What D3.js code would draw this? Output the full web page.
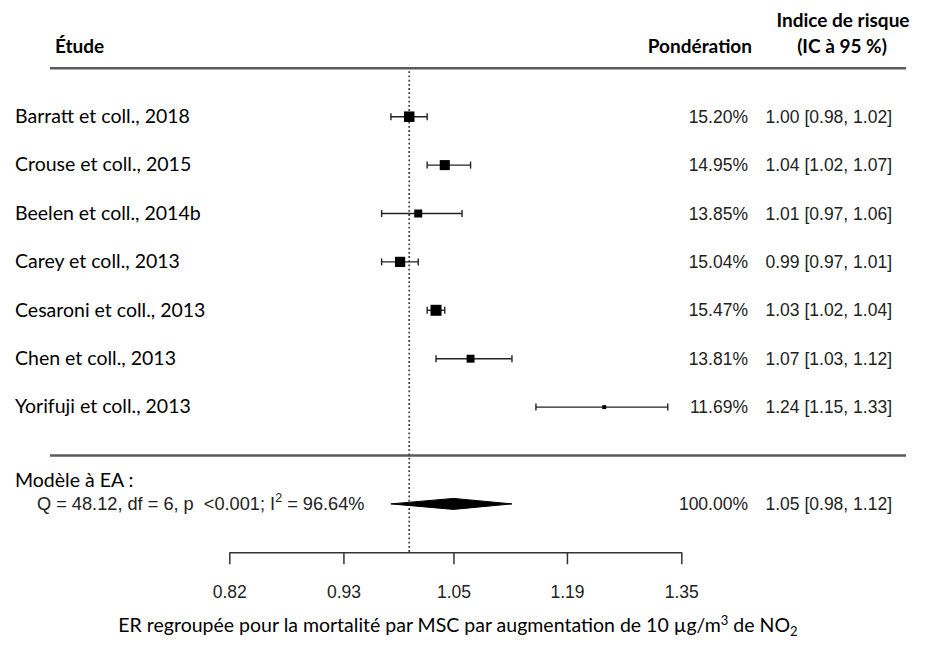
<!DOCTYPE html>
<html>
<head>
<meta charset="utf-8">
<script src="https://cdn.jsdelivr.net/npm/d3@7"></script>
<style>
  body { margin: 0; background: #fff; }
  .cal { font-family: Lato, "Open Sans", sans-serif; fill: #000; }
  .ari { font-family: "Liberation Sans", Arial, sans-serif; fill: #222; white-space: pre; }
</style>
</head>
<body>
<div id="chart"></div>
<script>
// données
const studies = ["Barratt et coll., 2018", "Crouse et coll., 2015", "Beelen et coll., 2014b",
  "Carey et coll., 2013", "Cesaroni et coll., 2013", "Chen et coll., 2013", "Yorifuji et coll., 2013"];
const est = [1.00, 1.04, 1.01, 0.99, 1.03, 1.07, 1.24];
const lower = [0.98, 1.02, 0.97, 0.97, 1.02, 1.03, 1.15];
const upper = [1.02, 1.07, 1.06, 1.01, 1.04, 1.12, 1.33];
const weights = [15.20, 14.95, 13.85, 15.04, 15.47, 13.81, 11.69];
const pooled = [1.05, 0.98, 1.12]; // estimation, borne inf, borne sup
const pooledWeight = 100.00;
const hetText = ["Q = 48.12, df = 6, p  <0.001; I", "2", " = 96.64%"];
const tickLabels = [0.82, 0.93, 1.05, 1.19, 1.35];

var width = 928;
var height = 651;

const svg = d3.select("#chart")
  .append("svg")
  .attr("width", width)
  .attr("height", height)
  .style("background-color", "#fff");

const x = d3.scaleLog()//échelle log des ER
  .domain([0.82, 1.35])
  .range([229.3, 681.3]);

const y = d3.scaleLinear()//rangée -> position verticale
  .domain([0, 8])
  .range([116.7, 503.9]);

const boxSize = d3.scaleLinear()//taille des carrés selon la pondération
  .domain(d3.extent(weights))
  .range([4, 11]);

const f2 = d3.format(".2f");
const numSize = "17.5px";
const labSize = "19.5px";

// en-têtes
svg.append("text").attr("class", "cal").attr("x", 55).attr("y", 53)
  .style("font-size", "19px").style("font-weight", "bold").text("Étude");
svg.append("text").attr("class", "cal").attr("x", 752).attr("y", 53).attr("text-anchor", "end")
  .style("font-size", "19px").style("font-weight", "bold").text("Pondération");
svg.append("text").attr("class", "cal").attr("x", 843).attr("y", 27).attr("text-anchor", "middle")
  .style("font-size", "19px").style("font-weight", "bold").text("Indice de risque");
svg.append("text").attr("class", "cal").attr("x", 842).attr("y", 53).attr("text-anchor", "middle")
  .style("font-size", "19px").style("font-weight", "bold").text("(IC à 95 %)");

// traits horizontaux
[-1, 7].forEach(function (r) {
  svg.append("line")
    .attr("x1", 50).attr("x2", 906)
    .attr("y1", y(r)).attr("y2", y(r))
    .attr("stroke", "#5a5a5a").attr("stroke-width", 2.6);
});

// ligne pointillée à 1
svg.append("line")
  .attr("x1", x(1)).attr("x2", x(1))
  .attr("y1", y(-1) + 3).attr("y2", y(9))
  .attr("stroke", "#444").attr("stroke-width", 1.8)
  .attr("stroke-dasharray", "1.8,2.4");

// études
const rows = svg.selectAll(".row")
  .data(studies)
  .enter()
  .append("g")
  .attr("class", "row");

rows.append("text").attr("class", "cal")
  .attr("x", 15).attr("y", function (d, i) { return y(i) + 6.3; })
  .style("font-size", labSize)
  .text(function (d) { return d; });

rows.append("line")//intervalle de confiance
  .attr("x1", function (d, i) { return x(lower[i]); })
  .attr("x2", function (d, i) { return x(upper[i]); })
  .attr("y1", function (d, i) { return y(i); })
  .attr("y2", function (d, i) { return y(i); })
  .attr("stroke", "#222").attr("stroke-width", 1.4);

rows.selectAll(".cap")
  .data(function (d, i) { return [{ v: lower[i], i: i }, { v: upper[i], i: i }]; })
  .enter()
  .append("line")
  .attr("x1", function (d) { return x(d.v); })
  .attr("x2", function (d) { return x(d.v); })
  .attr("y1", function (d) { return y(d.i) - 3.5; })
  .attr("y2", function (d) { return y(d.i) + 3.5; })
  .attr("stroke", "#222").attr("stroke-width", 1.4);

rows.append("rect")
  .attr("x", function (d, i) { return x(est[i]) - boxSize(weights[i]) / 2; })
  .attr("y", function (d, i) { return y(i) - boxSize(weights[i]) / 2; })
  .attr("width", function (d, i) { return boxSize(weights[i]); })
  .attr("height", function (d, i) { return boxSize(weights[i]); })
  .attr("fill", "#000");

rows.append("text").attr("class", "ari")
  .attr("x", 748).attr("y", function (d, i) { return y(i) + 6; })
  .attr("text-anchor", "end").style("font-size", numSize)
  .text(function (d, i) { return f2(weights[i]) + "%"; });

rows.append("text").attr("class", "ari")
  .attr("x", 892).attr("y", function (d, i) { return y(i) + 6; })
  .attr("text-anchor", "end").style("font-size", numSize)
  .text(function (d, i) { return f2(est[i]) + " [" + f2(lower[i]) + ", " + f2(upper[i]) + "]"; });

// modèle à effets aléatoires
svg.append("text").attr("class", "cal").attr("x", 15).attr("y", 487)
  .style("font-size", labSize).text("Modèle à EA :");

const het = svg.append("text").attr("class", "ari").attr("x", 37).attr("y", y(8) + 6)
  .style("font-size", "18.2px");
het.append("tspan").text(hetText[0]);
het.append("tspan").attr("dy", -8).style("font-size", "12.5px").text(hetText[1]);
het.append("tspan").attr("dy", 8).text(hetText[2]);

svg.append("path")
  .attr("d", d3.line()([
    [x(pooled[1]), y(8)],
    [x(pooled[0]), y(8) - 5.5],
    [x(pooled[2]), y(8)],
    [x(pooled[0]), y(8) + 5.5]
  ]) + "Z")
  .attr("fill", "#000").attr("stroke", "#000").attr("stroke-width", 1);

svg.append("text").attr("class", "ari")
  .attr("x", 748).attr("y", y(8) + 6).attr("text-anchor", "end").style("font-size", numSize)
  .text(f2(pooledWeight) + "%");
svg.append("text").attr("class", "ari")
  .attr("x", 892).attr("y", y(8) + 6).attr("text-anchor", "end").style("font-size", numSize)
  .text(f2(pooled[0]) + " [" + f2(pooled[1]) + ", " + f2(pooled[2]) + "]");

// axe
const xAxis = d3.axisBottom(x)
  .tickValues(tickLabels)
  .tickFormat(f2)
  .tickSize(12)
  .tickSizeOuter(0)
  .tickPadding(21);

const gx = svg.append("g")
  .attr("transform", "translate(0," + y(9) + ")")
  .call(xAxis);
gx.selectAll("path, line").attr("stroke", "#333").attr("stroke-width", 1.5);
gx.selectAll("text").attr("class", "ari").attr("fill", "#222")
  .style("font-size", numSize);

// titre de l'axe
const title = svg.append("text").attr("class", "cal")
  .attr("x", 458).attr("y", 632).attr("text-anchor", "middle")
  .style("font-size", labSize);
title.append("tspan").text("ER regroupée pour la mortalité par MSC par augmentation de 10 µg/m");
title.append("tspan").attr("dy", -7).style("font-size", "13px").text("3");
title.append("tspan").attr("dy", 7).text(" de NO");
title.append("tspan").attr("dy", 4).style("font-size", "13px").text("2");
</script>
</body>
</html>
